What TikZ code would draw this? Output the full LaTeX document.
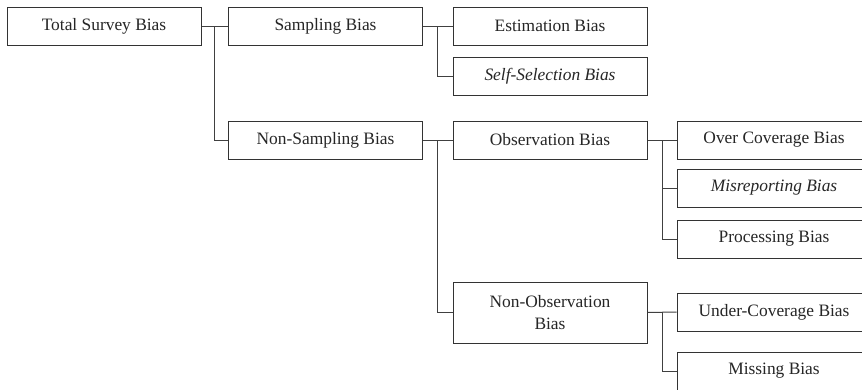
\documentclass[tikz,border=0pt]{standalone}
\usepackage{fontspec}
\setmainfont{Liberation Serif}
\usetikzlibrary{calc}
\begin{document}
\begin{tikzpicture}[x=1pt,y=-1pt,
  box/.style={draw=black!80, line width=1pt, rectangle, minimum width=194pt, minimum height=38pt,
    inner sep=0pt, text=black!85, font=\fontsize{17.4}{22}\selectfont, align=center},
  link/.style={draw=black!75, line width=1pt}]
\useasboundingbox (0,0) rectangle (862,389);
\clip (0,0) rectangle (862,389);
\fill[white] (0,0) rectangle (862,389);
\node[box] (T) at (104,26) {Total Survey Bias};
\node[box] (S) at (325.5,26) {Sampling Bias};
\node[box] (NS) at (325.5,140) {Non-Sampling Bias};
\node[box] (E) at (550,26) {Estimation Bias};
\node[box] (SS) at (550,76) {\itshape Self-Selection Bias};
\node[box] (O) at (550,140) {Observation Bias};
\node[box, minimum height=61pt] (NO) at (550,312.5) {Non-Observation\\Bias};
\node[box] (OC) at (774,140) {Over Coverage Bias};
\node[box] (MR) at (774,188) {\itshape Misreporting Bias};
\node[box] (P) at (774,239) {Processing Bias};
\node[box] (UC) at (774,312) {Under-Coverage Bias};
\node[box] (MB) at (774,371) {Missing Bias};
% connectors
\draw[link] (T.east) -- (S.west);
\draw[link] ($(T.east)!0.5!(S.west)$) |- (NS.west);
\draw[link] (S.east) -- (E.west);
\draw[link] ($(S.east)!0.5!(E.west)$) |- (SS.west);
\draw[link] (NS.east) -- (O.west);
\draw[link] ($(NS.east)!0.5!(O.west)$) |- (NO.west);
\draw[link] (O.east) -- (OC.west);
\draw[link] ($(O.east)!0.5!(OC.west)$) |- (MR.west);
\draw[link] ($(O.east)!0.5!(OC.west)$) |- (P.west);
\draw[link] (NO.east) -- (UC.west);
\draw[link] ($(NO.east)!0.5!(UC.west)$) |- (MB.west);
\end{tikzpicture}
\end{document}
